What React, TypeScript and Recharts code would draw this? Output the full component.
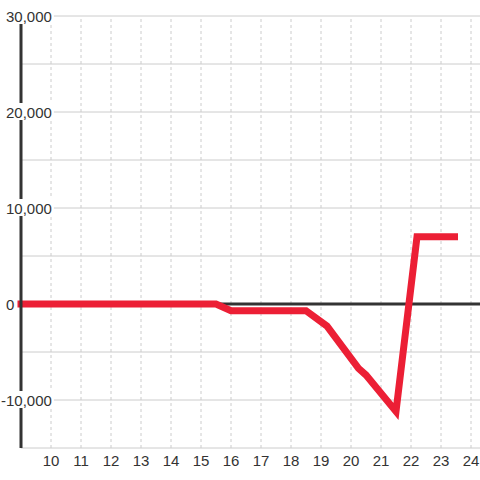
import React from 'react';
import { LineChart, Line, XAxis, YAxis, ReferenceLine } from 'recharts';

const hours = [9, 15.5, 16, 18.5, 19.2, 20.25, 20.5, 21.5, 22.2, 23.45];
const values = [0, 0, -700, -700, -2300, -6700, -7400, -11200, 7000, 7000];
const xTicks = [10, 11, 12, 13, 14, 15, 16, 17, 18, 19, 20, 21, 22, 23, 24];
const yTicks = [-15000, -10000, -5000, 0, 5000, 10000, 15000, 20000, 25000, 30000];
const yLabelTicks = [-10000, 0, 10000, 20000, 30000];

const data = hours.map((h, i) => ({ x: h, y: values[i] }));

const FONT = '"Liberation Sans", Arial, sans-serif';
const TEXT = '#333';
const FS = 15;

const textWidth = (s: string) => {
  let w = 0;
  for (const c of s) w += (c === ',' ? 0.278 : c === '-' ? 0.333 : 0.556) * FS;
  return w;
};

const YTick = (props: any) => {
  const { y, payload } = props;
  const v = payload.value as number;
  if (!yLabelTicks.includes(v)) return <g />;
  const label = Math.abs(v).toLocaleString('en-US');
  const neg = v < 0;
  const x0 = neg ? 0 : 4;
  const w = 6 + textWidth(label) + 2 - x0;
  return (
    <g>
      <rect x={x0} y={y - 9} width={w} height={17} fill="#fff" />
      {neg && (
        <text x={6} y={y} dy={5.5} textAnchor="end" fontSize={FS} fontFamily={FONT} fill={TEXT}>
          -
        </text>
      )}
      <text x={6} y={y} dy={5.5} textAnchor="start" fontSize={FS} fontFamily={FONT} fill={TEXT}>
        {label}
      </text>
    </g>
  );
};

const XTick = (props: any) => {
  const { x, payload } = props;
  return (
    <text x={x} y={466} textAnchor="middle" fontSize={FS} fontFamily={FONT} fill={TEXT}>
      {payload.value}
    </text>
  );
};

export default function App() {
  return (
    <div style={{ position: 'absolute', left: 0, top: 0, background: '#fff' }}>
      <LineChart width={480} height={480} data={data} margin={{ top: 16, right: 0, bottom: 31, left: 20 }}>
        {yTicks.map((t) => (
          <ReferenceLine key={'h' + t} y={t} stroke="#ccc" strokeWidth={1} />
        ))}
        {xTicks.map((t) => (
          <ReferenceLine key={'v' + t} x={t} stroke="#ccc" strokeWidth={1} strokeDasharray="3 3" />
        ))}
        <XAxis
          type="number"
          dataKey="x"
          domain={[9, 24.3]}
          ticks={xTicks}
          interval={0}
          axisLine={false}
          tickLine={false}
          height={1}
          tick={<XTick />}
        />
        <YAxis
          type="number"
          domain={[-15000, 30000]}
          ticks={yTicks}
          interval={0}
          width={1}
          axisLine={{ stroke: '#333', strokeWidth: 3 }}
          tickLine={false}
          tick={<YTick />}
        />
        <ReferenceLine y={0} stroke="#333" strokeWidth={3} />
        <Line
          type="linear"
          dataKey="y"
          stroke="#ec1f35"
          strokeWidth={7}
          strokeLinecap="square"
          strokeLinejoin="miter"
          dot={false}
          activeDot={false}
          isAnimationActive={false}
        />
      </LineChart>
    </div>
  );
}
